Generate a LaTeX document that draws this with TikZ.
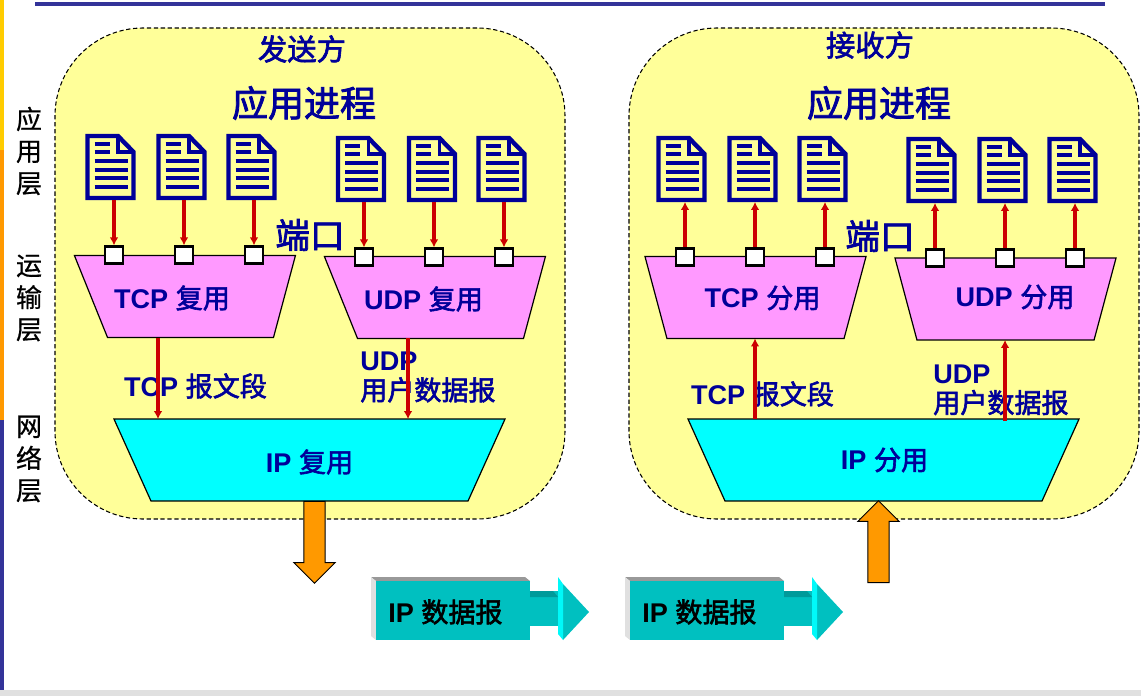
\documentclass[tikz,border=0pt]{standalone}
\usepackage{fontspec}
\setmainfont{Liberation Sans}
\newfontfamily\cjk{Noto Sans CJK SC}[BoldFont=Noto Sans CJK SC,BoldFeatures={FakeBold=2.2}]
\newfontfamily\cjkside{Noto Sans CJK SC}[FakeBold=0.7]
\usetikzlibrary{shapes.geometric,shapes.arrows,arrows.meta}

\definecolor{navy}{HTML}{000099}
\definecolor{panelyellow}{HTML}{FFFF99}
\definecolor{muxpink}{HTML}{FF99FF}
\definecolor{ipcyan}{HTML}{00FFFF}
\definecolor{pipered}{HTML}{CC0000}
\definecolor{orangeb}{HTML}{FF9900}
\definecolor{goldb}{HTML}{FFCC00}
\definecolor{slide}{HTML}{333399}
\definecolor{teal0}{HTML}{00C0C0}

\tikzset{
  panel/.style={draw=black,dash pattern=on 3.2pt off 2pt,line width=.8pt,fill=panelyellow,rounded corners=66pt,
    minimum width=382.5pt,minimum height=368.25pt,inner sep=0pt},
  mux/.style={draw=black,line width=.9pt,trapezium,shape border rotate=180,trapezium stretches body,
    inner xsep=0pt,inner ysep=30.7pt,outer sep=0pt},
  tcpmux/.style={mux,fill=muxpink,minimum width=165.75pt},
  ipmux/.style={mux,fill=ipcyan,minimum width=293.25pt,trapezium angle=65.7},
  port/.style={draw=black,line width=1.9pt,fill=white,minimum width=13.5pt,minimum height=12.5pt,inner sep=0pt},
  docbox/.style={minimum width=37pt,minimum height=49pt,inner sep=0pt},
  pipe/.style={color=pipered,line width=2.3pt,-{Latex[length=6pt,width=6.5pt]}},
  bluetext/.style={text=navy,font=\bfseries,inner sep=0pt},
  bigarrow/.style={draw=black,line width=.7pt,fill=orangeb,single arrow,single arrow head extend=7.6pt,
    single arrow head indent=0pt,inner xsep=0pt,inner ysep=7.6pt,outer sep=0pt,minimum height=61.5pt},
  sidetext/.style={align=center,inner sep=0pt,font=\fontsize{19.5}{24}\cjkside}
}

% one page icon, centre at (#2,#3)
\newcommand{\docnode}[3]{
  \node [docbox] (#1) at (#2,#3) {};
  \begin{scope}[shift={(#1.center)}]
    \draw [navy,line width=3.3pt,fill=panelyellow,miter limit=2] (-23,-31) -- (7.5,-31) -- (23,-15) -- (23,31) -- (-23,31) -- cycle;
    \draw [navy,line width=2.6pt] (7.5,-31) -- (7.5,-15) -- (23,-15);
    \draw [navy,line width=2.4pt] (-16,-23) -- (-1,-23) (-16,-15) -- (-1,-15)
      (-16,-6) -- (17,-6) (-16,3) -- (17,3) (-16,11) -- (17,11) (-16,20) -- (17,20);
  \end{scope}
}

% one IP datagram block with its arrow, front face from (#2,#3)
\newcommand{\datagram}[3]{
  \begin{scope}[shift={(#2,#3)}]
    \fill [black!40] (-5,-4) -- (149,-4) -- (154,0) -- (0,0) -- cycle;
    \fill [black!12] (-5,-4) -- (0,0) -- (0,59) -- (-5,55) -- cycle;
    \fill [teal0] (154,10) -- (182,10) -- (182,45) -- (154,45) -- cycle;
    \fill [teal0!80!black] (154,10) -- (177,10) -- (182,16) -- (154,16) -- cycle;
    \fill [teal0] (187,3) -- (213,31) -- (187,59) -- cycle;
    \fill [ipcyan!90!teal0] (182,-4) -- (187,3) -- (187,59) -- (182,53) -- cycle;
    \node [fill=teal0,anchor=north west,minimum width=115.5pt,minimum height=44.25pt,inner sep=0pt] (#1) at (0,0) {};
    \node [font=\fontsize{20.3}{24}\bfseries,inner sep=0pt,anchor=west] (#1t) at (12,31) {IP {\cjk 数据报}};
  \end{scope}
}

\begin{document}
\begin{tikzpicture}[x=.75pt,y=-.75pt]
\useasboundingbox (0,0) rectangle (1141,696);

% slide decoration
\fill [goldb] (0,0) rectangle (4,150);
\fill [orangeb] (0,150) rectangle (4,420);
\fill [slide] (0,420) rectangle (4,690);
\fill [black!12] (0,690) rectangle (1141,696);
\draw [slide,line width=2.7pt] (35,4) -- (1105,4);

\node [sidetext] (lapp) at (29,151) {应\\用\\层};
\node [sidetext] (ltrans) at (29,298) {运\\输\\层};
\node [sidetext] (lnet) at (29,459) {网\\络\\层};

% the two hosts
\node [panel] (send) at (310,273.5) {};
\node [panel] (recv) at (884,273.5) {};

\node [bluetext,font=\fontsize{22}{26}\bfseries\cjk] (sendt) at (302,49) {发送方};
\node [bluetext,font=\fontsize{22}{26}\bfseries\cjk] (recvt) at (870,45) {接收方};
\node [bluetext,font=\fontsize{27}{32}\bfseries\cjk] (appl) at (304,103) {应用进程};
\node [bluetext,font=\fontsize{27}{32}\bfseries\cjk] (appr) at (879,103) {应用进程};
\node [bluetext,font=\fontsize{26}{30}\bfseries\cjk] (portl) at (310,235) {端口};
\node [bluetext,font=\fontsize{26}{30}\bfseries\cjk] (portr) at (880,236) {端口};

\docnode{da1}{110.5}{167}
\docnode{da2}{181.5}{167}
\docnode{da3}{251.5}{167}
\docnode{da4}{361}{169}
\docnode{da5}{432}{169}
\docnode{da6}{501.5}{169}
\docnode{db1}{681.5}{169}
\docnode{db2}{752.5}{169}
\docnode{db3}{822.5}{169}
\docnode{db4}{931.5}{170}
\docnode{db5}{1002.5}{170}
\docnode{db6}{1072.5}{170}

% multiplexers
\node [tcpmux,trapezium left angle=75,trapezium right angle=68] (tcpl) at (190.5,296.5) {};
\node [tcpmux,trapezium left angle=75,trapezium right angle=68] (udpl) at (440.5,297.5) {};
\node [tcpmux,trapezium angle=75] (tcpr) at (755.5,297.5) {};
\node [tcpmux,trapezium angle=75] (udpr) at (1005.5,299) {};
\node [ipmux] (ipl) at (309.5,460) {};
\node [ipmux] (ipr) at (883.5,460) {};

\node [port] (pa1) at (114,255) {};
\node [port] (pa2) at (184,255) {};
\node [port] (pa3) at (254,255) {};
\node [port] (pa4) at (364,257) {};
\node [port] (pa5) at (434,257) {};
\node [port] (pa6) at (504,257) {};
\node [port] (pb1) at (685,257) {};
\node [port] (pb2) at (755,257) {};
\node [port] (pb3) at (825,257) {};
\node [port] (pb4) at (935,258) {};
\node [port] (pb5) at (1005,258) {};
\node [port] (pb6) at (1075,258) {};

\node [bluetext,font=\fontsize{20.3}{24}\bfseries] (tcpltxt) at (172,298) {TCP {\cjk 复用}};
\node [bluetext,font=\fontsize{20.3}{24}\bfseries] (udpltxt) at (423.5,299) {UDP {\cjk 复用}};
\node [bluetext,font=\fontsize{20.3}{24}\bfseries] (tcprtxt) at (762.5,298) {TCP {\cjk 分用}};
\node [bluetext,font=\fontsize{20.3}{24}\bfseries] (udprtxt) at (1015,297) {UDP {\cjk 分用}};
\node [bluetext,font=\fontsize{20.3}{24}\bfseries] (ipltxt) at (309.5,462) {IP {\cjk 复用}};
\node [bluetext,font=\fontsize{20.3}{24}\bfseries] (iprtxt) at (884.5,460) {IP {\cjk 分用}};

\node [bluetext,font=\fontsize{20.3}{24}\bfseries] (segl) at (195.5,386) {TCP {\cjk 报文段}};
\node [bluetext,font=\fontsize{20.3}{24}\bfseries] (segr) at (762.5,394) {TCP {\cjk 报文段}};
\node [bluetext,font=\fontsize{20.3}{22.5}\bfseries,align=left,anchor=west] (dgl) at (360,377) {UDP\\{\cjk 用户数据报}};
\node [bluetext,font=\fontsize{20.3}{22}\bfseries,align=left,anchor=west] (dgr) at (933,390) {UDP\\{\cjk 用户数据报}};

% free ends of the segment arrows
\coordinate (tl) at (158,338);
\coordinate (ul) at (408,338);
\coordinate (tr) at (755,419);
\coordinate (ur) at (1005,421);

\path [pipe] (da1.south -| pa1) edge (pa1) (da2.south -| pa2) edge (pa2) (da3.south -| pa3) edge (pa3)
	(da4.south -| pa4) edge (pa4) (da5.south -| pa5) edge (pa5) (da6.south -| pa6) edge (pa6);
\path [pipe] (pb1) edge (db1.south -| pb1) (pb2) edge (db2.south -| pb2) (pb3) edge (db3.south -| pb3)
	(pb4) edge (db4.south -| pb4) (pb5) edge (db5.south -| pb5) (pb6) edge (db6.south -| pb6);
\path [pipe] (tl) edge (ipl.north -| tl) (ul) edge (ipl.north -| ul)
	(tr) edge (tcpr.south -| tr) (ur) edge (udpr.south -| ur);

% IP arrows
\node [bigarrow,rotate=-90] (outa) at (314.5,537) {};
\node [bigarrow,rotate=90] (ina) at (878.5,547) {};

\datagram{dga}{376}{581}
\datagram{dgb}{630}{581}
\end{tikzpicture}
\end{document}
